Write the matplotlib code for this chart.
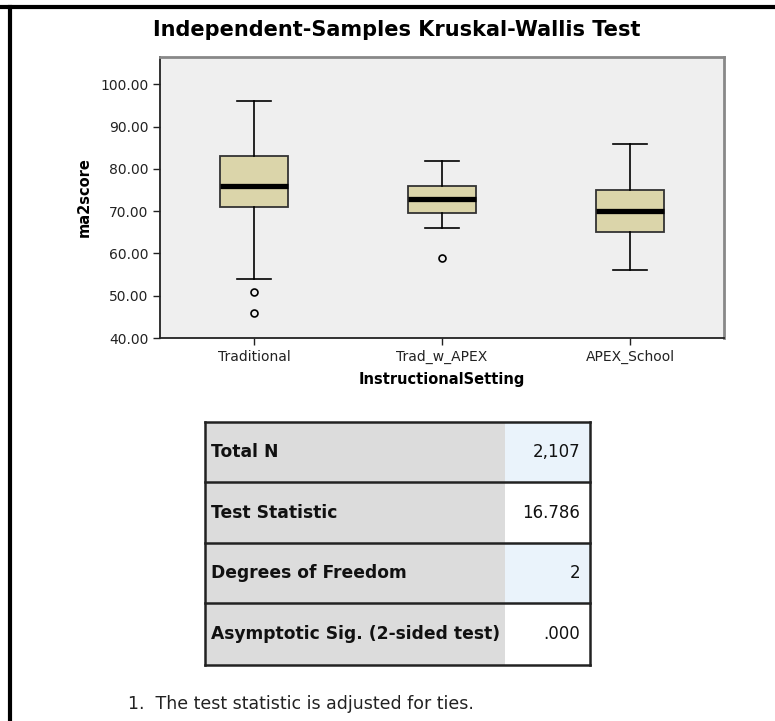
import matplotlib
matplotlib.use("Agg")
import matplotlib.pyplot as plt
from matplotlib.lines import Line2D
from matplotlib.patches import Rectangle

# Box plot values
groups = ["Traditional", "Trad_w_APEX", "APEX_School"]
whisker_low = [54, 66, 56]
q1 = [71, 69.5, 65]
median = [76, 73, 70]
q3 = [83, 76, 75]
whisker_high = [96, 82, 86]
outliers = [[51, 46], [59], []]

# Summary table
row_labels = ["Total N", "Test Statistic", "Degrees of Freedom",
              "Asymptotic Sig. (2-sided test)"]
row_values = ["2,107", "16.786", "2", ".000"]

W, H = 775, 721
fig = plt.figure(figsize=(W / 100, H / 100), dpi=100)

# outer frame lines (top and left)
fig.add_artist(Line2D([0, 1], [1 - 7 / H, 1 - 7 / H], color="black", lw=3))
fig.add_artist(Line2D([10 / W, 10 / W], [0, 1 - 7 / H], color="black", lw=3))

fig.text(397 / W, 1 - 30 / H, "Independent-Samples Kruskal-Wallis Test",
         ha="center", va="center", fontsize=15, fontweight="bold")

# Box plot
ax = fig.add_axes([160 / W, 1 - 338 / H, 564 / W, 281 / H])
ax.set_facecolor("#efefef")
stats = []
for i, g in enumerate(groups):
    stats.append(dict(label=g, whislo=whisker_low[i], q1=q1[i], med=median[i],
                      q3=q3[i], whishi=whisker_high[i], fliers=outliers[i]))
ax.bxp(stats, positions=[1, 2, 3], widths=0.365, patch_artist=True,
       boxprops=dict(facecolor="#dbd5aa", edgecolor="#333333", lw=1.3),
       medianprops=dict(color="black", lw=3.8),
       whiskerprops=dict(color="black", lw=1.2),
       capprops=dict(color="black", lw=1.2), capwidths=0.18,
       flierprops=dict(marker="o", markersize=5, markerfacecolor="none",
                       markeredgecolor="black", markeredgewidth=1.2))
ax.set_xlim(0.5, 3.5)
ax.set_ylim(40, 106.5)
ax.set_yticks([40, 50, 60, 70, 80, 90, 100])
ax.set_yticklabels([f"{v:.2f}" for v in [40, 50, 60, 70, 80, 90, 100]])
ax.tick_params(axis="y", length=5, width=1, labelsize=10, colors="#222222")
ax.tick_params(axis="x", length=5, width=1, labelsize=10, colors="#222222")
ax.set_ylabel("ma2score", fontsize=10.5, fontweight="bold", labelpad=6)
ax.set_xlabel("InstructionalSetting", fontsize=10.5, fontweight="bold", labelpad=6)
ax.spines["left"].set_color("#222222")
ax.spines["bottom"].set_color("#222222")
ax.spines["left"].set_linewidth(1.3)
ax.spines["bottom"].set_linewidth(1.3)
ax.spines["top"].set_color("#888888")
ax.spines["right"].set_color("#888888")
ax.spines["top"].set_linewidth(2)
ax.spines["right"].set_linewidth(2)

# Table drawn in pixel coordinates
tx = fig.add_axes([0, 0, 1, 1])
tx.set_xlim(0, W)
tx.set_ylim(H, 0)
tx.axis("off")
left, mid, right = 205, 505, 590
tops = [422, 482, 543, 603, 665]
value_bg = ["#eaf3fb", "#ffffff", "#eaf3fb", "#ffffff"]
for i in range(4):
    y0, y1 = tops[i], tops[i + 1]
    tx.add_patch(Rectangle((left, y0), mid - left, y1 - y0,
                           facecolor="#dcdcdc", edgecolor="none"))
    tx.add_patch(Rectangle((mid, y0), right - mid, y1 - y0,
                           facecolor=value_bg[i], edgecolor="none"))
    tx.text(left + 6, (y0 + y1) / 2, row_labels[i], ha="left", va="center",
            fontsize=12.3, fontweight="bold", color="#111111")
    tx.text(right - 10, (y0 + y1) / 2, row_values[i], ha="right", va="center",
            fontsize=12, color="#111111")
for y in tops:
    tx.plot([left, right], [y, y], color="#222222", lw=1.8)
tx.plot([left, left], [tops[0], tops[-1]], color="#222222", lw=1.8)
tx.plot([right, right], [tops[0], tops[-1]], color="#222222", lw=1.8)

tx.text(128, 704, "1.  The test statistic is adjusted for ties.",
        ha="left", va="center", fontsize=12.5, color="#222222")

fig.savefig("out.png", dpi=100)
